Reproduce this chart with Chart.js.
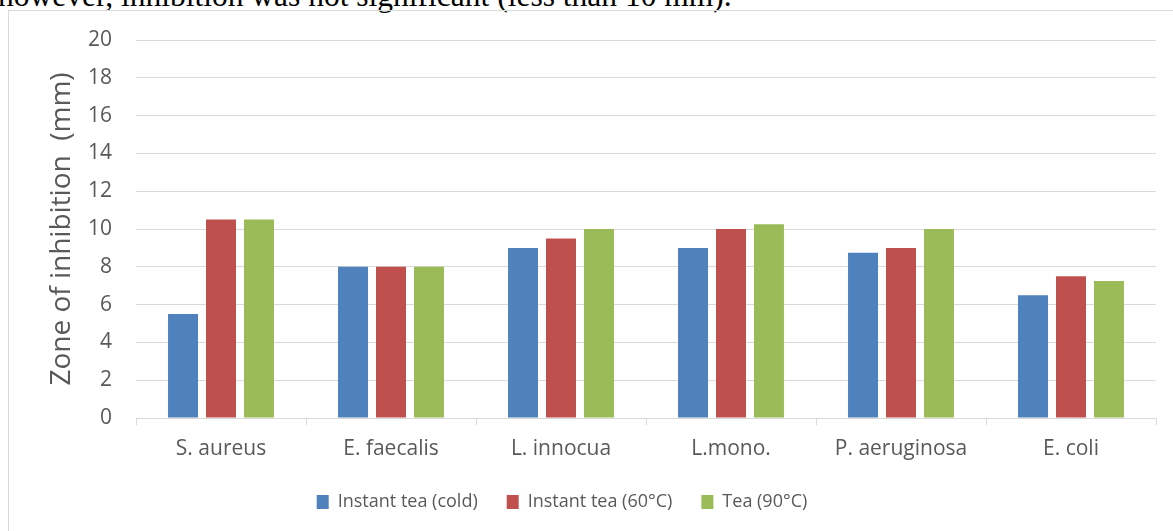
<!DOCTYPE html>
<html>
<head>
<meta charset="utf-8">
<title>Zone of inhibition</title>
<script src="https://cdn.jsdelivr.net/npm/chart.js@4.4.1/dist/chart.umd.min.js"></script>
<style>
  html, body { margin: 0; padding: 0; background: #fff; }
  body { width: 1173px; height: 531px; position: relative; overflow: hidden; }
  #caption {
    position: absolute; left: -2px; top: -20px; white-space: nowrap; line-height: 1;
    font-family: "Liberation Serif", "DejaVu Serif", serif; font-size: 31.5px; color: #000;
  }
  #frame {
    position: absolute; left: 8px; top: 10px; width: 1180px; height: 540px;
    border: 1px solid #d9d9d9; box-sizing: border-box;
  }
  #wrap { position: absolute; left: 0; top: 0; width: 1173px; height: 531px; }
</style>
</head>
<body>
<div id="caption">however, inhibition was not significant (less than 10 mm).</div>
<div id="frame"></div>
<div id="wrap"><canvas id="chart" width="1173" height="531"></canvas></div>
<script>
// Bacteria tested
const categories = ['S. aureus', 'E. faecalis', 'L. innocua', 'L.mono.', 'P. aeruginosa', 'E. coli'];

// Inhibition zone diameters (mm)
const instantCold = [5.5, 8, 9, 9, 8.75, 6.5];
const instant60 = [10.5, 8, 9.5, 10, 9, 7.5];
const tea90 = [10.5, 8, 10, 10.25, 10, 7.25];

const seriesNames = ['Instant tea (cold)', 'Instant tea (60°C)', 'Tea (90°C)'];
const yTicks = [0, 2, 4, 6, 8, 10, 12, 14, 16, 18, 20];

const FONT = '"Open Sans", "Noto Sans", sans-serif';
const TEXT = '#595959';
const GRID = '#d9d9d9';

const colors = ['#4F81BD', '#C0504D', '#9BBB59'];
const values = [instantCold, instant60, tea90];

// Shift the legend row left so it sits under the middle of the frame
const legendShift = {
  id: 'legendShift',
  afterLayout(chart) {
    const lg = chart.legend;
    if (lg) { lg.left -= 36; lg.right -= 36; }
  }
};

new Chart(document.getElementById('chart'), {
  type: 'bar',
  data: {
    labels: categories,
    datasets: values.map((v, i) => ({
      label: seriesNames[i],
      data: v,
      backgroundColor: colors[i],
      borderWidth: 0,
      categoryPercentage: 0.67,
      barPercentage: 0.79
    }))
  },
  plugins: [legendShift],
  options: {
    responsive: false,
    animation: false,
    layout: { padding: { left: 40, right: 17, top: 40, bottom: 10 } },
    plugins: {
      tooltip: { enabled: false },
      legend: {
        position: 'bottom',
        labels: {
          font: { family: FONT, size: 18 },
          color: TEXT,
          boxWidth: 12,
          boxHeight: 14,
          padding: 29
        }
      }
    },
    scales: {
      x: {
        grid: {
          offset: true,
          drawOnChartArea: false,
          drawTicks: true,
          tickLength: 7,
          color: GRID,
          lineWidth: 1
        },
        border: { display: true, color: GRID, width: 1 },
        ticks: {
          font: { family: FONT, size: 21 },
          color: TEXT,
          padding: 11,
          maxRotation: 0
        },
        afterFit: (s) => { s.height = 46; }
      },
      y: {
        min: 0,
        max: 20,
        afterBuildTicks: (s) => { s.ticks = yTicks.map(v => ({ value: v })); },
        grid: { color: GRID, lineWidth: 1, drawTicks: false },
        border: { display: false },
        ticks: {
          font: { family: FONT, size: 21 },
          color: TEXT,
          padding: 24
        },
        title: {
          display: true,
          text: 'Zone of inhibition  (mm)',
          font: { family: FONT, size: 28 },
          color: TEXT,
          padding: { top: 5, bottom: 0 }
        },
        afterFit: (s) => { s.width = 96; }
      }
    }
  }
});
</script>
</body>
</html>
